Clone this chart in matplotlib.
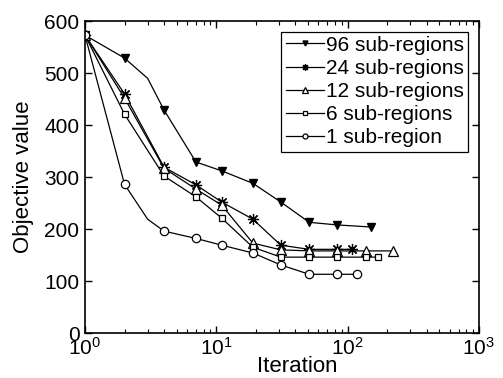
import matplotlib
matplotlib.use("Agg")
import matplotlib.pyplot as plt
from matplotlib.ticker import LogLocator, NullFormatter

plt.rcParams['font.family'] = ['Liberation Sans', 'DejaVu Sans']
plt.rcParams['mathtext.fontset'] = 'custom'
plt.rcParams['mathtext.rm'] = 'Liberation Sans'
plt.rcParams['mathtext.it'] = 'Liberation Sans:italic'

# iteration values and objective values
it_96 = [1, 2, 3, 4, 7, 11, 19, 31, 51, 83, 150]
obj_96 = [573, 529, 490, 429, 329, 312, 288, 252, 213, 208, 204]
mark_96 = [0, 1, 3, 4, 5, 6, 7, 8, 9, 10]

it_24 = [1, 2, 4, 7, 11, 19, 31, 51, 83, 108]
obj_24 = [573, 460, 319, 285, 252, 219, 169, 161, 161, 161]

it_12 = [1, 2, 4, 7, 11, 19, 31, 51, 83, 138, 222]
obj_12 = [573, 452, 317, 277, 246, 173, 160, 158, 158, 158, 158]

it_6 = [1, 2, 4, 7, 11, 19, 31, 51, 83, 138, 171]
obj_6 = [573, 421, 302, 262, 221, 165, 146, 146, 146, 146, 146]

it_1 = [1, 2, 3, 4, 7, 11, 19, 31, 51, 83, 117]
obj_1 = [573, 286, 219, 196, 182, 169, 154, 131, 113, 113, 113]
mark_1 = [0, 1, 3, 4, 5, 6, 7, 8, 9, 10]

fig = plt.figure(figsize=(5.03, 3.78), dpi=100)
ax = fig.add_axes([0.169, 0.119, 0.783, 0.825])

kw = dict(color='black', lw=0.9)
ax.plot(it_96, obj_96, marker='v', ms=6, mfc='black', markevery=mark_96,
        label='96 sub-regions', **kw)
ax.plot(it_24, obj_24, marker=(8, 2, 0), ms=8, mew=0.9,
        label='24 sub-regions', **kw)
ax.plot(it_12, obj_12, marker='^', ms=7, mfc='white', mew=0.9,
        label='12 sub-regions', **kw)
ax.plot(it_6, obj_6, marker='s', ms=5, mfc='white', mew=0.9,
        label='6 sub-regions', **kw)
ax.plot(it_1, obj_1, marker='o', ms=6, mfc='white', mew=0.9, markevery=mark_1,
        label='1 sub-region', **kw)

ax.set_xscale('log')
ax.set_xlim(1, 1000)
ax.set_ylim(0, 600)
ax.set_yticks(range(0, 601, 100))
ax.xaxis.set_major_locator(LogLocator(base=10, numticks=5))
ax.xaxis.set_minor_locator(LogLocator(base=10, subs=range(2, 10), numticks=20))
ax.xaxis.set_minor_formatter(NullFormatter())
ax.tick_params(which='both', direction='in', top=True, right=True, labelsize=15)
ax.tick_params(axis='x', pad=3)
ax.tick_params(axis='y', pad=4)
ax.tick_params(which='major', length=5, width=1)
ax.tick_params(which='minor', length=3, width=0.8)
for s in ax.spines.values():
    s.set_linewidth(1.2)

ax.set_xlabel('Iteration', fontsize=16)
ax.xaxis.set_label_coords(0.54, -0.074)
ax.set_ylabel('Objective value', fontsize=16)
ax.yaxis.set_label_coords(-0.13, 0.5)

leg = ax.legend(loc='upper right', fontsize=15, frameon=True, fancybox=False,
                edgecolor='black', handlelength=1.85, handletextpad=0.1,
                labelspacing=0.2, borderpad=0.2, borderaxespad=0.5,
                markerscale=0.6, framealpha=1)
leg.get_frame().set_linewidth(0.9)

fig.savefig('out.png', dpi=100)
